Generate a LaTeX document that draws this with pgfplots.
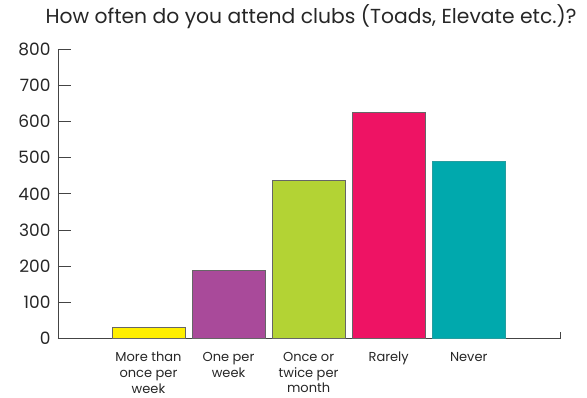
\documentclass[border=0pt]{standalone}
\usepackage{fontspec}
\setmainfont{Poppins}
\usepackage{pgfplots}
\pgfplotsset{compat=1.18}
\definecolor{cYellow}{HTML}{FFEF00}
\definecolor{cPurple}{HTML}{A94A9A}
\definecolor{cGreen}{HTML}{B3D334}
\definecolor{cPink}{HTML}{EE1364}
\definecolor{cTeal}{HTML}{00A9AD}
\definecolor{axgray}{HTML}{444444}
\definecolor{edgegray}{HTML}{666666}
\begin{document}
\begin{tikzpicture}
\useasboundingbox (-58pt,-59.3pt) rectangle (529pt,338.7pt);
\begin{axis}[
  scale only axis,
  width=502pt, height=289.7pt,
  xmin=-1.13, xmax=5.14,
  ymin=0, ymax=800,
  axis x line=bottom, axis y line=left,
  axis line style={axgray, line width=0.9pt, -},
  ytick={0,100,...,800},
  ytick style={axgray, line width=0.9pt},
  tick align=inside,
  major tick length=12.7pt,
  yticklabel style={font=\fontsize{17}{17}\selectfont, text=black!85, xshift=-4pt},
  /pgf/number format/assume math mode=true,
  xtick={0,1,2,3,4},
  xtick style={draw=none},
  xticklabels={{More than\\once per\\week},{One per\\week},{Once or\\twice per\\month},{Rarely},{Never}},
  xticklabel style={align=center, font=\fontsize{13}{15.8}\selectfont, text=black!85, anchor=north, yshift=-10pt},
  title={How often do you attend clubs (Toads, Elevate etc.)?},
  title style={font=\fontsize{20.3}{21}\selectfont, text=black!85, at={(0.5,1)}, anchor=base, yshift=19pt, xshift=2pt},
  clip=false,
]
\addplot[ybar, bar width=0.91, fill=cYellow, draw=edgegray, line width=0.6pt] coordinates {(0,31)};
\addplot[ybar, bar width=0.91, fill=cPurple, draw=edgegray, line width=0.6pt] coordinates {(1,189)};
\addplot[ybar, bar width=0.91, fill=cGreen, draw=edgegray, line width=0.6pt] coordinates {(2,437)};
\addplot[ybar, bar width=0.91, fill=cPink, draw=edgegray, line width=0.6pt] coordinates {(3,625)};
\addplot[ybar, bar width=0.91, fill=cTeal, draw=cTeal!70!gray, line width=0.6pt] coordinates {(4,491)};
\draw[axgray, line width=0.9pt] (rel axis cs:1,0) -- ++(0pt,7pt);
\end{axis}
\end{tikzpicture}
\end{document}
